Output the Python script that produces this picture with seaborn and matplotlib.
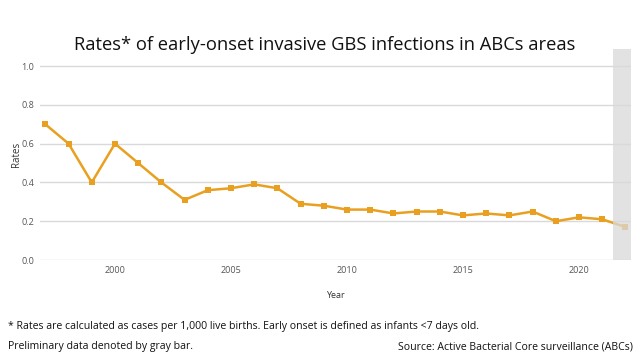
import matplotlib
matplotlib.use("Agg")
import matplotlib.pyplot as plt
import seaborn as sns
import pandas as pd

years = list(range(1997, 2023))
rates = [0.70, 0.60, 0.40, 0.60, 0.50, 0.40, 0.31, 0.36, 0.37, 0.39, 0.37, 0.29, 0.28,
         0.26, 0.26, 0.24, 0.25, 0.25, 0.23, 0.24, 0.23, 0.25, 0.20, 0.22, 0.21, 0.17]
xticks = [2000, 2005, 2010, 2015, 2020]
yticks = [0.0, 0.2, 0.4, 0.6, 0.8, 1.0]

df = pd.DataFrame({"Year": years, "Rates": rates})

sns.set_theme(style="white")
plt.rcParams['font.family'] = ['Open Sans', 'DejaVu Sans']

fig = plt.figure(figsize=(6.41, 3.61), dpi=100)
ax = fig.add_axes([40/641, 1-260/361, (631-40)/641, (260-49)/361])

orange = "#E9A021"
sns.lineplot(data=df, x="Year", y="Rates", ax=ax, color=orange, marker="s",
             markersize=5, markeredgewidth=0, linewidth=1.8, zorder=3)

ax.axvspan(2021.47, 2022.3, color="#d9d9d9", alpha=0.75, zorder=5, lw=0)

ax.set_xlim(1996.77, 2022.24)
ax.set_ylim(0, 1.088)
ax.set_yticks(yticks)
ax.set_yticklabels([f"{v:.1f}" for v in yticks])
ax.set_xticks(xticks)
ax.grid(axis="y", color="#d9d9d9", linewidth=1)
ax.grid(axis="x", visible=False)
for s in ax.spines.values():
    s.set_visible(False)
ax.tick_params(axis="both", labelsize=6.5, labelcolor="#555555", length=0, pad=4)
ax.set_xlabel("Year", fontsize=6.5, color="#333333", labelpad=12)
ax.set_ylabel("Rates", fontsize=7, color="#333333", labelpad=0)

fig.text(324.5/641, 1-45/361, "Rates* of early-onset invasive GBS infections in ABCs areas",
         ha="center", va="center", fontsize=13.2, color="#111111")
fig.text(8/641, 1-326/361,
         "* Rates are calculated as cases per 1,000 live births. Early onset is defined as infants <7 days old.",
         ha="left", va="center", fontsize=7.6, color="#111111")
fig.text(8/641, 1-347/361, "Preliminary data denoted by gray bar.",
         ha="left", va="center", fontsize=7.6, color="#111111")
fig.text(633/641, 1-347/361, "Source: Active Bacterial Core surveillance (ABCs)",
         ha="right", va="center", fontsize=7.6, color="#111111")

fig.savefig("out.png", dpi=100)
